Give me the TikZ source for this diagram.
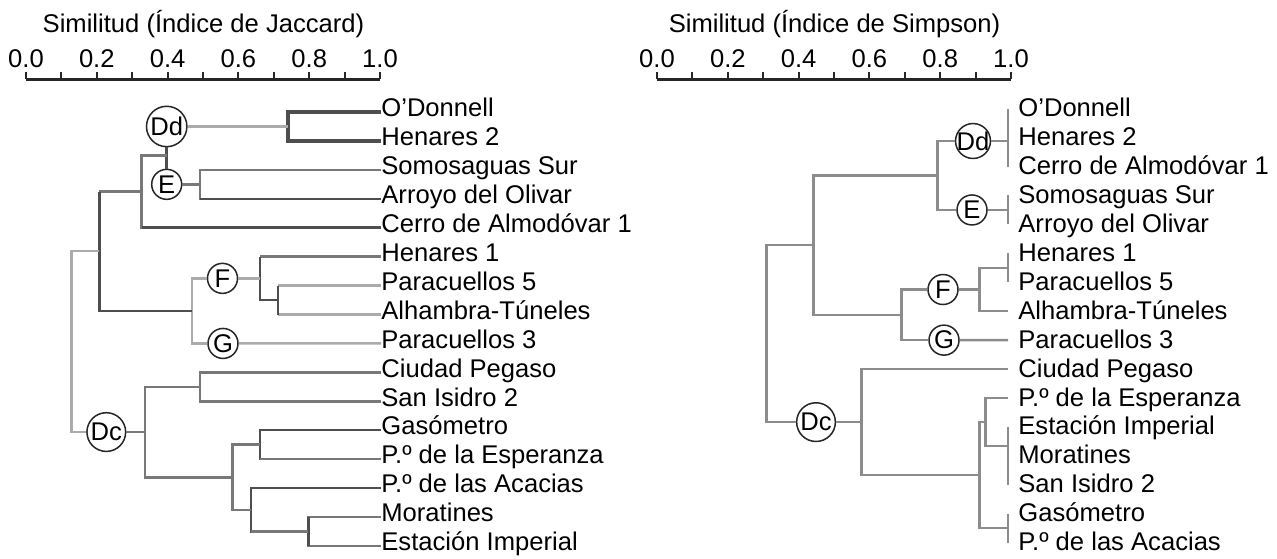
\documentclass[tikz,border=0pt]{standalone}
\usepackage{fontspec}
\setmainfont{Liberation Sans}
\definecolor{brdark}{HTML}{4E4E4E}
\definecolor{brmid}{HTML}{787878}
\definecolor{brlight}{HTML}{ABABAB}
\definecolor{brsimp}{HTML}{8C8C8C}
\tikzset{
	brA/.style={draw=brdark,line width=1.25pt},
	brB/.style={draw=brmid,line width=1.25pt},
	brC/.style={draw=brlight,line width=1.25pt},
	brR/.style={draw=brsimp,line width=1.25pt},
	clab/.style={circle,draw=black!85,line width=0.75pt,fill=white,inner sep=0.5pt,minimum size=15pt},
	leaf/.style={anchor=west,inner sep=0pt,text height=7pt,text depth=2.3pt},
	sleaf/.style={anchor=west,inner sep=0pt,text height=8pt,text depth=0pt},
	axisln/.style={draw=black!85,line width=1.5pt},
	tickln/.style={draw=black!85,line width=1pt},
	axlab/.style={anchor=base,inner sep=0pt},
	ttl/.style={anchor=base,inner sep=0pt}
}
\begin{document}
\begin{tikzpicture}[x=0.5pt,y=-0.5pt,font=\fontsize{12.8}{15}\selectfont]
		\useasboundingbox (0,0) rectangle (1277,558);
		% axes and titles
		\foreach \dx/\idx in {0/Jaccard,631/Simpson}{
			\begin{scope}[shift={(\dx,0)}]
				\node[ttl] (t\idx) at (203.5,32.5) {Similitud (Índice de \idx)};
				\draw[axisln] (26,79) -- (380,79);
				\foreach \t in {0,...,10}{
					\draw[tickln] ({26+35.4*\t},79) -- ++(0,-7.5);
				}
				\foreach \t/\v in {0/0.0,2/0.2,4/0.4,6/0.6,8/0.8,10/1.0}{
					\node[axlab] (a\idx\t) at ({26+35.4*\t},67.5) {\v};
				}
			\end{scope}
		}
		% Jaccard
		\foreach \txt [count=\i from 0] in {O’Donnell,Henares 2,Somosaguas Sur,Arroyo del Olivar,Cerro de Almodóvar 1,Henares 1,Paracuellos 5,Alhambra-Túneles,Paracuellos 3,Ciudad Pegaso,San Isidro 2,Gasómetro,P.º de la Esperanza,P.º de las Acacias,Moratines,Estación Imperial}{
			\node[leaf] (jl\i) at (381,{112+28.93*\i}) {\txt};
		}
		\coordinate (ja) at (288,126.47);
		\draw[brA,line width=2pt] (jl0.west) -| (ja) |- (jl1.west);
		\node[clab] (jdd) at (166.7,126.47) {Dd};
		\draw[brC] (jdd) -- (ja);
		\coordinate (jb) at (200,184.33);
		\draw[brB] (jl2.west) -| (jb) |- (jl3.west);
		\draw[brA] (jb |- jl3.west) -- (jl3.west);
		\node[clab] (je) at (166.7,184.33) {E};
		\draw[brB] (je) -- (jb);
		\draw[brA] (jdd) -- (je);
		\coordinate (jde) at (166.7,155.4);
		\coordinate (jc) at (141.7,191.56);
		\draw[brB] (jde) -| (jc) |- (jl4.west);
		\draw[brA] (jc |- jl4.west) -- (jl4.west);
		\coordinate (jfa) at (278,300.05);
		\draw[brC] (jfa |- jl6.west) -- (jl6.west);
		\draw[brC] (jfa |- jl7.west) -- (jl7.west);
		\draw[brA] (jfa |- jl6.west) -- (jfa |- jl7.west);
		\coordinate (jfb) at (260,278.35);
		\draw[brB] (jfb |- jl5.west) -- (jl5.west);
		\draw[brA] (jfb |- jl5.west) -- (jfb |- jfa) -- (jfa);
		\node[clab] (jf) at (222.5,278.35) {F};
		\draw[brC] (jf) -- (jfb);
		\node[clab] (jg) at (223,343.44) {G};
		\draw[brC] (jg) -- (jl8.west);
		\coordinate (jh) at (192,310.9);
		\draw[brC] (jf) -| (jh) |- (jg);
		\coordinate (ji) at (99.3,251.23);
		\draw[brB] (jc) -- (ji |- jc);
		\draw[brA] (ji |- jc) -- (ji |- jh) -- (jh);
		\coordinate (jk1) at (200,386.84);
		\draw[brB] (jl9.west) -| (jk1) |- (jl10.west);
		\coordinate (jk2) at (260,444.7);
		\draw[brA] (jl11.west) -| (jk2) |- (jl12.west);
		\draw[brB] (jk2 |- jl12.west) -- (jl12.west);
		\coordinate (jk3) at (308.3,531.49);
		\draw[brB] (jl14.west) -| (jk3) |- (jl15.west);
		\draw[brA] (jk3 |- jl14.west) -- (jk3 |- jl15.west);
		\coordinate (jk4) at (251,509.79);
		\draw[brA] (jl13.west) -| (jk4) |- (jk3);
		\draw[brB] (jk4 |- jk3) -- (jk3);
		\coordinate (jk5) at (232.7,477.25);
		\draw[brB] (jk2) -| (jk5) |- (jk4);
		\coordinate (jk6) at (145,432.05);
		\draw[brB] (jk1) -| (jk6) |- (jk5);
		\node[clab] (jdc) at (106.3,432.05) {Dc};
		\draw[brB] (jdc) -- (jk6);
		\coordinate (jr) at (71.7,341.64);
		\draw[brC] (ji) -| (jr) |- (jdc);
		% Simpson
		\begin{scope}[shift={(631,0)}]
			\foreach \txt [count=\i from 0] in {O’Donnell,Henares 2,Cerro de Almodóvar 1,Somosaguas Sur,Arroyo del Olivar,Henares 1,Paracuellos 5,Alhambra-Túneles,Paracuellos 3,Ciudad Pegaso,P.º de la Esperanza,Estación Imperial,Moratines,San Isidro 2,Gasómetro,P.º de las Acacias}{
				\node[sleaf] (sl\i) at (387,{108.7+28.93*\i}) {\txt};
				\coordinate (st\i) at (377,{108.7+28.93*\i});
			}
			\draw[brR] (st0) -- (st2);
			\coordinate (sa) at (377,141);
			\node[clab,inner sep=-0.5pt] (sdd) at (342,141) {Dd};
			\draw[brR] (sdd) -- (sa);
			\draw[brR] (st3) -- (st4);
			\coordinate (sb) at (377,209.96);
			\node[clab] (se) at (341,209.96) {E};
			\draw[brR] (se) -- (sb);
			\coordinate (sde) at (306.7,175.48);
			\draw[brR] (sdd) -| (sde) |- (se);
			\draw[brR] (st5) -- (st6);
			\coordinate (sfa) at (377,267.82);
			\coordinate (sfb) at (348.3,289.5);
			\draw[brR] (sfa) -| (sfb) |- (st7);
			\node[clab] (sf) at (312,289.5) {F};
			\draw[brR] (sf) -- (sfb);
			\node[clab] (sg) at (313,340.14) {G};
			\draw[brR] (sg) -- (st8);
			\coordinate (sfg) at (270.7,314.82);
			\draw[brR] (sf) -| (sfg) |- (sg);
			\coordinate (sdf) at (182.3,245.15);
			\draw[brR] (sde) -| (sdf) |- (sfg);
			\draw[brR] (st11) -- (st13);
			\coordinate (sga) at (377,446);
			\draw[brR] (st14) -- (st15);
			\coordinate (sgb) at (377,528.19);
			\coordinate (spa) at (354.3,422);
			\draw[brR] (st10) -| (spa) |- (sga);
			\coordinate (spb) at (348.3,475.1);
			\draw[brR] (spa) -| (spb) |- (sgb);
			\coordinate (spc) at (230.7,422.1);
			\draw[brR] (st9) -| (spc) |- (spb);
			\node[clab] (sdc) at (185,422.1) {Dc};
			\draw[brR] (sdc) -- (spc);
			\coordinate (sr) at (135.7,333.6);
			\draw[brR] (sdf) -| (sr) |- (sdc);
		\end{scope}
	\end{tikzpicture}
\end{document}
